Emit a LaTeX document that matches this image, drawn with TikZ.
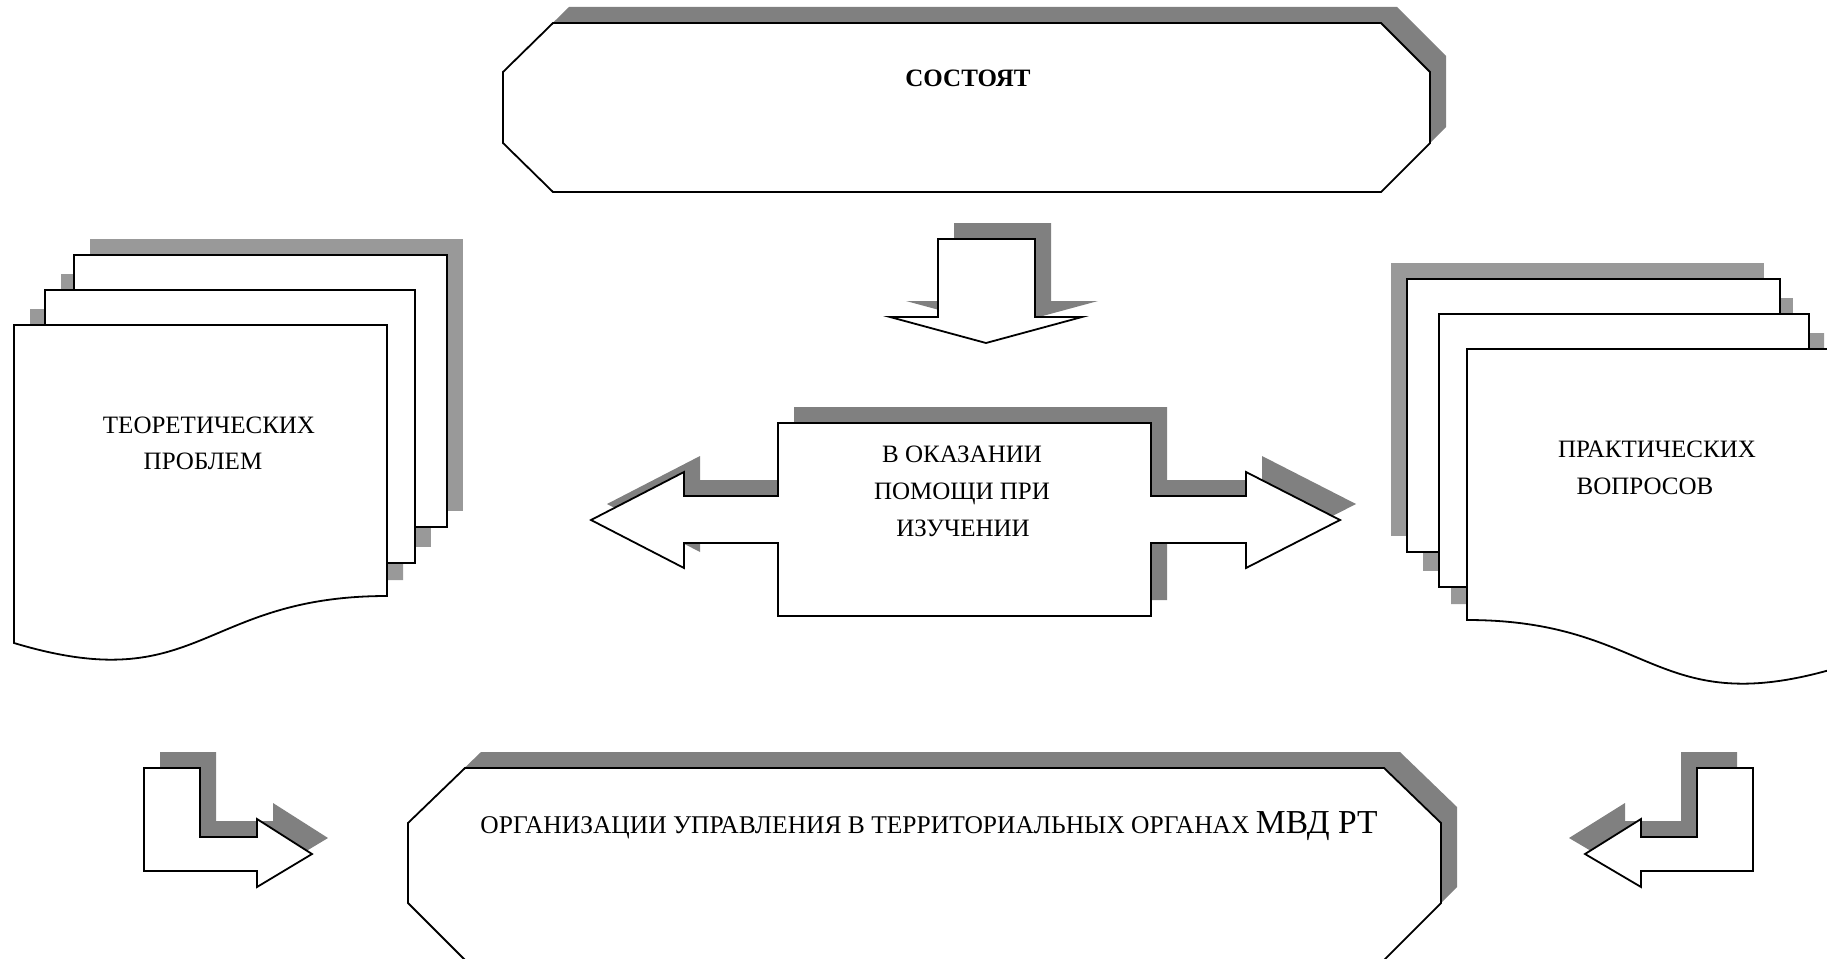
\documentclass[tikz,border=0pt]{standalone}
\usepackage{fontspec}
\setmainfont{Liberation Serif}
\definecolor{shadowdark}{HTML}{808080}
\definecolor{shadowlight}{HTML}{999999}
\newcommand\octTop{(553,23) -- (1381,23) -- (1430,72) -- (1430,143) -- (1381,192) -- (553,192) -- (503,143) -- (503,72) -- cycle}
\newcommand\octBot{(465,768) -- (1384,768) -- (1441,823) -- (1441,903) -- (1384,960) -- (465,960) -- (408,903) -- (408,823) -- cycle}
\newcommand\lsA{(74,255) rectangle (447,527)}
\newcommand\lsB{(45,290) rectangle (415,563)}
\newcommand\lsC{(14,325) -- (387,325) -- (387,596) .. controls (200,596) and (200,699) .. (14,643) -- cycle}
\newcommand\rsA{(1407,279) rectangle (1780,552)}
\newcommand\rsB{(1439,314) rectangle (1809,587)}
\newcommand\rsC{(1467,349) -- (1840,349) -- (1840,667) .. controls (1654,723) and (1654,620) .. (1467,620) -- cycle}
\newcommand\downArr{(938,239) -- (1035,239) -- (1035,317) -- (1082,317) -- (986,343) -- (890,317) -- (938,317) -- cycle}
\newcommand\lrCallout{(778,423) -- (1151,423) -- (1151,496) -- (1246,496) -- (1246,472) -- (1340,520) -- (1246,568) -- (1246,543) -- (1151,543) -- (1151,616) -- (778,616) -- (778,543) -- (684,543) -- (684,568) -- (591,520) -- (684,472) -- (684,496) -- (778,496) -- cycle}
\newcommand\bentL{(144,768) -- (200,768) -- (200,837) -- (257,837) -- (257,819) -- (312,854) -- (257,887) -- (257,871) -- (144,871) -- cycle}
\newcommand\bentR{(1753,768) -- (1697,768) -- (1697,837) -- (1641,837) -- (1641,819) -- (1585,854) -- (1641,887) -- (1641,871) -- (1753,871) -- cycle}
\begin{document}
\begin{tikzpicture}[x=1pt,y=-1pt,
  shapeline/.style={draw=black,line width=1.8pt,fill=white,line join=miter},
  shd/.style={fill=shadowdark,draw=none},
  shdl/.style={fill=shadowlight,draw=none},
  lbl/.style={inner sep=0pt,anchor=base,font=\fontsize{25}{30}\selectfont}]
\useasboundingbox (0,0) rectangle (1827,958);
\clip (0,0) rectangle (1827,958);
% top octagon
\fill[shd,shift={(16,-16)}] \octTop;
\draw[shapeline] \octTop;
\node[lbl,font=\fontsize{25}{30}\selectfont\bfseries] (sostoyat) at (968,86) {СОСТОЯТ};
% left stack
\begin{scope}[shift={(16,-16)}]
\fill[shdl] \lsA; \fill[shdl] \lsB; \fill[shdl] \lsC;
\end{scope}
\draw[shapeline] \lsA;
\draw[shapeline] \lsB;
\draw[shapeline] \lsC;
\node[lbl] (teor1) at (209,433) {ТЕОРЕТИЧЕСКИХ};
\node[lbl] (teor2) at (203,469) {ПРОБЛЕМ};
% right stack
\begin{scope}[shift={(-16,-16)}]
\fill[shdl] \rsA; \fill[shdl] \rsB; \fill[shdl] \rsC;
\end{scope}
\draw[shapeline] \rsA;
\draw[shapeline] \rsB;
\draw[shapeline] \rsC;
\node[lbl] (prakt1) at (1657,457) {ПРАКТИЧЕСКИХ};
\node[lbl] (prakt2) at (1645,494) {ВОПРОСОВ};
% down arrow
\fill[shd,shift={(16,-16)}] \downArr;
\draw[shapeline] \downArr;
% left-right arrow callout
\fill[shd,shift={(16,-16)}] \lrCallout;
\draw[shapeline] \lrCallout;
\node[lbl] (c1) at (962,462) {В ОКАЗАНИИ};
\node[lbl] (c2) at (962,499) {ПОМОЩИ ПРИ};
\node[lbl] (c3) at (963,536) {ИЗУЧЕНИИ};
% bottom octagon
\fill[shd,shift={(16,-16)}] \octBot;
\draw[shapeline] \octBot;
\node[lbl,font=\fontsize{25.5}{30}\selectfont] (org) at (929,833) {ОРГАНИЗАЦИИ УПРАВЛЕНИЯ В ТЕРРИТОРИАЛЬНЫХ ОРГАНАХ {\fontsize{33.5}{36}\selectfont МВД РТ}};
% bent arrows
\fill[shd,shift={(16,-16)}] \bentL;
\draw[shapeline] \bentL;
\fill[shd,shift={(-16,-16)}] \bentR;
\draw[shapeline] \bentR;
\end{tikzpicture}
\end{document}
